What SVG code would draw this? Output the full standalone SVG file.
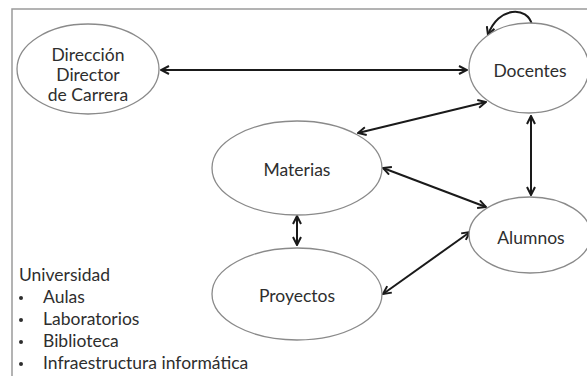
<svg xmlns="http://www.w3.org/2000/svg" width="587" height="376" viewBox="0 0 587 376">
  <defs>
    <style>
      .node ellipse { fill: #ffffff; stroke: #8a8a8a; stroke-width: 1.3; }
      .lbl { font-family: Lato, "Open Sans", "Liberation Sans", sans-serif; font-size: 17.5px; fill: #2e2e2e; text-anchor: middle; }
      .list { font-family: Lato, "Open Sans", "Liberation Sans", sans-serif; font-size: 17.5px; fill: #2e2e2e; }
      .edge { fill: none; stroke: #1a1a1a; stroke-width: 2; marker-start: url(#head); marker-end: url(#head); }
    </style>
    <marker id="head" viewBox="0 0 10 10" refX="9" refY="5" markerWidth="10" markerHeight="10" markerUnits="userSpaceOnUse" orient="auto-start-reverse">
      <path d="M1,1 L9,5 L1,9" fill="none" stroke="#1a1a1a" stroke-width="2"/>
    </marker>
  </defs>

  <rect x="0" y="0" width="587" height="376" fill="#ffffff"/>
  <!-- outer frame -->
  <path d="M12,380 L12,9 L590,9" fill="none" stroke="#9a9a9a" stroke-width="1.5"/>

  <g id="connectors">
    <line class="edge" x1="161" y1="70" x2="467" y2="70"/>
    <path d="M532,25 C528,6 498,6 488,35" fill="none" stroke="#1a1a1a" stroke-width="2" marker-end="url(#head)"/>
    <line class="edge" x1="358" y1="133" x2="486" y2="102"/>
    <line class="edge" x1="531" y1="116" x2="531" y2="195"/>
    <line class="edge" x1="383" y1="168" x2="486" y2="207"/>
    <line class="edge" x1="297" y1="216" x2="297" y2="245"/>
    <line class="edge" x1="383" y1="294" x2="470" y2="232"/>
  </g>

  <g id="direccion" class="node">
    <ellipse cx="88" cy="69" rx="71" ry="45"/>
    <text class="lbl" x="88" y="61">Dirección</text>
    <text class="lbl" x="88" y="81">Director</text>
    <text class="lbl" x="88" y="101">de Carrera</text>
  </g>

  <g id="docentes" class="node">
    <ellipse cx="529" cy="68" rx="60" ry="45"/>
    <text class="lbl" x="530" y="77">Docentes</text>
  </g>

  <g id="materias" class="node">
    <ellipse cx="297" cy="168" rx="85" ry="47"/>
    <text class="lbl" x="297" y="176">Materias</text>
  </g>

  <g id="alumnos" class="node">
    <ellipse cx="530" cy="235" rx="61" ry="38"/>
    <text class="lbl" x="531" y="244">Alumnos</text>
  </g>

  <g id="proyectos" class="node">
    <ellipse cx="297" cy="294" rx="85" ry="46"/>
    <text class="lbl" x="297" y="302">Proyectos</text>
  </g>

  <g id="universidad">
    <text class="list" x="19" y="281">Universidad</text>
    <g>
      <circle cx="21" cy="298" r="2" fill="#2e2e2e"/>
      <circle cx="21" cy="320" r="2" fill="#2e2e2e"/>
      <circle cx="21" cy="342" r="2" fill="#2e2e2e"/>
      <circle cx="21" cy="364" r="2" fill="#2e2e2e"/>
    </g>
    <text class="list" x="43" y="303">Aulas</text>
    <text class="list" x="43" y="325">Laboratorios</text>
    <text class="list" x="43" y="347">Biblioteca</text>
    <text class="list" x="43" y="369">Infraestructura informática</text>
  </g>
</svg>
